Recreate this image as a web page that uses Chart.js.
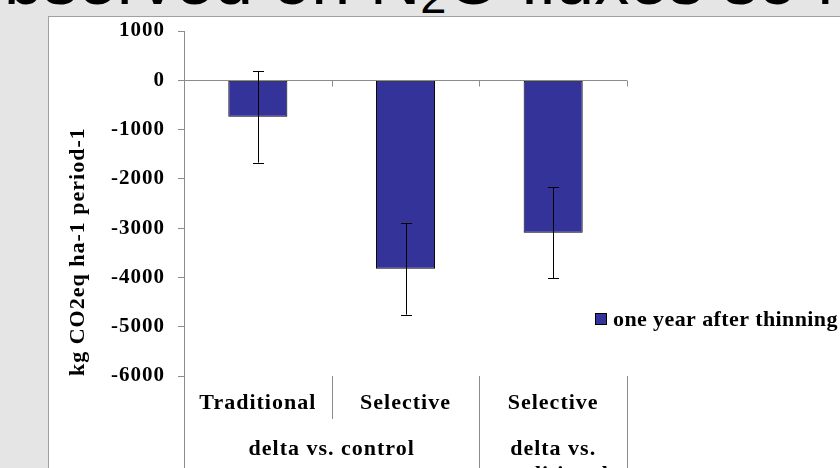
<!DOCTYPE html>
<html><head><meta charset="utf-8">
<script src="https://cdn.jsdelivr.net/npm/chart.js@4.4.1/dist/chart.umd.min.js"></script>
<style>
html,body{margin:0;padding:0;width:840px;height:468px;overflow:hidden;background:#e5e5e5;}
#slideTitle{position:absolute;left:-35px;top:-55px;font-family:"Liberation Sans",Arial,sans-serif;font-size:70px;line-height:70px;white-space:nowrap;color:#000;}
#slideTitle sub{font-size:47px;vertical-align:baseline;position:relative;top:9px;}
#box{position:absolute;left:48px;top:16px;width:900px;height:500px;background:#fff;border:1px solid #a0a0a0;}
#wrap{position:absolute;left:0;top:0;width:840px;height:468px;}
</style></head>
<body>
<div id="slideTitle">observed on N<sub>2</sub>O fluxes so far</div>
<div id="box"></div>
<div id="wrap"><canvas id="c"></canvas></div>
<script>
// ---- data ----
const categories = ['Traditional', 'Selective', 'Selective'];
const groupLabels = [['delta vs. control'], ['delta vs.', 'traditional']];
const groupSpans = [2, 1];
const seriesLabel = 'one year after thinning';
const values = [-740, -3825, -3095];
const errors = [930, 930, 920];
const yAxisTitle = 'kg CO2eq ha-1 period-1';
const yMin = -6000, yMax = 1000, yStep = 1000;

const SERIF = '"Liberation Serif", "Times New Roman", serif';
const AXIS = '#8c8c8c';

const decor = {
  id: 'decor',
  beforeDraw(chart) {
    chart.ctx.letterSpacing = '1px';
  },
  afterDatasetsDraw(chart) {
    const ctx = chart.ctx;
    const xs = chart.scales.x, ys = chart.scales.y;
    const ca = chart.chartArea;
    const half = (xs.getPixelForValue(1) - xs.getPixelForValue(0)) / 2;
    ctx.save();
    // zero line with downward tick marks
    const y0 = Math.round(ys.getPixelForValue(0)) + 0.5;
    ctx.strokeStyle = AXIS; ctx.lineWidth = 1;
    ctx.beginPath();
    ctx.moveTo(ca.left, y0); ctx.lineTo(ca.right, y0);
    for (let i = 1; i <= categories.length; i++) {
      const bx = Math.round(xs.getPixelForValue(i - 1) + half) + 0.5;
      ctx.moveTo(bx, y0); ctx.lineTo(bx, y0 + 6);
    }
    ctx.stroke();
    // error bars
    ctx.strokeStyle = '#000'; ctx.lineWidth = 1;
    values.forEach((v, i) => {
      const x = Math.round(xs.getPixelForValue(i)) + 0.5;
      const yt = ys.getPixelForValue(v + errors[i]);
      const yb = ys.getPixelForValue(v - errors[i]);
      ctx.beginPath();
      ctx.moveTo(x, yt); ctx.lineTo(x, yb);
      ctx.moveTo(x - 5.5, Math.round(yt) + 0.5); ctx.lineTo(x + 5.5, Math.round(yt) + 0.5);
      ctx.moveTo(x - 5.5, Math.round(yb) + 0.5); ctx.lineTo(x + 5.5, Math.round(yb) + 0.5);
      ctx.stroke();
    });
    // category separators
    const groupEdges = [0];
    groupSpans.reduce((a, s) => { groupEdges.push(a + s); return a + s; }, 0);
    ctx.strokeStyle = AXIS;
    ctx.beginPath();
    for (let i = 0; i <= categories.length; i++) {
      const bx = Math.round(xs.getPixelForValue(0) - half + 2 * half * i) + 0.5;
      const long = groupEdges.includes(i);
      ctx.moveTo(bx, ca.bottom); ctx.lineTo(bx, long ? chart.height : ca.bottom + 43);
    }
    ctx.stroke();
    // group labels
    ctx.fillStyle = '#000';
    ctx.font = 'bold 22px ' + SERIF;
    ctx.textAlign = 'center'; ctx.textBaseline = 'alphabetic';
    ctx.letterSpacing = '1px';
    groupLabels.forEach((lines, g) => {
      const l = xs.getPixelForValue(groupEdges[g]) - half;
      const r = xs.getPixelForValue(groupEdges[g + 1] - 1) + half;
      lines.forEach((t, k) => ctx.fillText(t, (l + r) / 2, ca.bottom + 79 + k * 26));
    });
    // legend
    const ds = chart.data.datasets[0];
    ctx.fillStyle = ds.backgroundColor;
    ctx.fillRect(595, 313, 12, 12);
    ctx.strokeStyle = '#000';
    ctx.strokeRect(595.5, 313.5, 11, 11);
    ctx.fillStyle = '#000';
    ctx.textAlign = 'left';
    ctx.letterSpacing = '0.4px';
    ctx.fillText(ds.label, 613, 326);
    ctx.restore();
  }
};

new Chart(document.getElementById('c'), {
  type: 'bar',
  data: {
    labels: categories,
    datasets: [{
      label: seriesLabel,
      data: values,
      backgroundColor: '#333399',
      borderColor: '#000',
      borderWidth: 1,
      borderSkipped: false,
      barPercentage: 0.4,
      categoryPercentage: 1
    }]
  },
  options: {
    responsive: true,
    maintainAspectRatio: false,
    animation: false,
    layout: { padding: { left: 0, right: 213, top: 31, bottom: 0 } },
    plugins: { legend: { display: false }, tooltip: { enabled: false } },
    scales: {
      x: {
        grid: { display: true, drawOnChartArea: false, drawTicks: false, color: 'rgba(0,0,0,0)' },
        border: { display: false },
        ticks: { font: { family: SERIF, size: 22, weight: 'bold' }, color: '#000', padding: 14, maxRotation: 0, autoSkip: false },
        afterFit(s) { s.height = 92; }
      },
      y: {
        min: yMin, max: yMax,
        ticks: { stepSize: yStep, font: { family: SERIF, size: 21, weight: 'bold' }, color: '#000', padding: 13,
                 callback: (v) => String(v) },
        grid: { drawOnChartArea: false, drawTicks: true, tickLength: 6, color: AXIS },
        border: { display: true, color: AXIS, width: 1 },
        title: { display: true, text: yAxisTitle, align: 'start', color: '#000', font: { family: SERIF, size: 22, weight: 'bold' }, padding: { top: 65, bottom: 0 } },
        afterFit(s) { s.width = 184; }
      }
    }
  },
  plugins: [decor]
});
</script>
</body></html>
